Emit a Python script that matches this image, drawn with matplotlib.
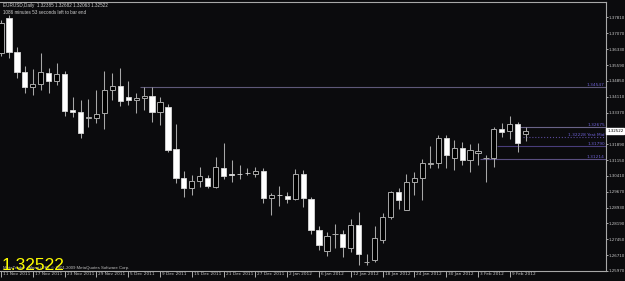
import matplotlib
matplotlib.use('Agg')
import matplotlib.pyplot as plt
import matplotlib.transforms as mtransforms
import numpy as np

# daily EURUSD bars, 11 Nov 2011 .. 13 Feb 2012 (index 0 = 11 Nov)
opens = [1.3615, 1.3779, 1.3620, 1.3526, 1.3456, 1.3470, 1.3522, 1.3484, 1.3517, 1.3349,
         1.3340, 1.3312, 1.3312, 1.3335, 1.3442, 1.3461, 1.3410, 1.3396, 1.3405, 1.3414,
         1.3340, 1.3363, 1.3167, 1.3031, 1.2985, 1.3017, 1.3031, 1.2989, 1.3078, 1.3050,
         1.3050, 1.3055, 1.3050, 1.3064, 1.2938, 1.2952, 1.2947, 1.2933, 1.3050, 1.2933,
         1.2788, 1.2690, 1.2770, 1.2770, 1.2704, 1.2812, 1.2639, 1.2648, 1.2742, 1.2849,
         1.2966, 1.2882, 1.3013, 1.3031, 1.3097, 1.3101, 1.3218, 1.3125, 1.3171, 1.3115,
         1.3148, 1.3125, 1.3125, 1.3260, 1.3251, 1.3283, 1.32385]
highs = [1.3769, 1.3793, 1.3643, 1.3554, 1.3540, 1.3615, 1.3545, 1.3568, 1.3531, 1.3410,
         1.3396, 1.3400, 1.3442, 1.3531, 1.3522, 1.3545, 1.3484, 1.3428, 1.3456, 1.3456,
         1.3410, 1.3377, 1.3283, 1.3064, 1.3045, 1.3083, 1.3045, 1.3129, 1.3195, 1.3115,
         1.3092, 1.3078, 1.3083, 1.3078, 1.2961, 1.2994, 1.2966, 1.3073, 1.3069, 1.2943,
         1.2807, 1.2779, 1.2817, 1.2788, 1.2840, 1.2873, 1.2676, 1.2807, 1.2868, 1.2971,
         1.2985, 1.3050, 1.3059, 1.3120, 1.3181, 1.3232, 1.3232, 1.3209, 1.3200, 1.3190,
         1.3195, 1.3139, 1.3269, 1.3288, 1.3321, 1.3293, 1.32682]
lows = [1.3601, 1.3592, 1.3498, 1.3428, 1.3419, 1.3442, 1.3428, 1.3466, 1.3321, 1.3316,
        1.3218, 1.3269, 1.3288, 1.3260, 1.3396, 1.3368, 1.3372, 1.3335, 1.3349, 1.3293,
        1.3279, 1.3153, 1.3008, 1.2943, 1.2952, 1.2989, 1.2985, 1.2985, 1.3027, 1.3013,
        1.3027, 1.3045, 1.3036, 1.2915, 1.2859, 1.2901, 1.2915, 1.2929, 1.2896, 1.2770,
        1.2695, 1.2667, 1.2704, 1.2662, 1.2686, 1.2625, 1.2625, 1.2639, 1.2728, 1.2840,
        1.2887, 1.2882, 1.2952, 1.2929, 1.3078, 1.3078, 1.3078, 1.3069, 1.3092, 1.3059,
        1.3092, 1.3013, 1.3083, 1.3223, 1.3213, 1.3153, 1.32063]
closes = [1.3755, 1.3620, 1.3526, 1.3456, 1.3470, 1.3526, 1.3484, 1.3517, 1.3344, 1.3340,
          1.3241, 1.3316, 1.3330, 1.3442, 1.3461, 1.3391, 1.3396, 1.3405, 1.3414, 1.3340,
          1.3386, 1.3162, 1.3031, 1.2985, 1.3017, 1.3041, 1.2994, 1.3083, 1.3041, 1.3045,
          1.3048, 1.3053, 1.3064, 1.2938, 1.2952, 1.2950, 1.2933, 1.3050, 1.2938, 1.2788,
          1.2718, 1.2760, 1.2772, 1.2709, 1.2812, 1.2676, 1.2641, 1.2751, 1.2849, 1.2966,
          1.2929, 1.3013, 1.3031, 1.3101, 1.3101, 1.3218, 1.3139, 1.3171, 1.3115, 1.3162,
          1.3157, 1.3127, 1.3260, 1.3246, 1.3283, 1.3195, 1.32522]

date_pos = [0, 4, 8, 12, 16, 20, 24, 28, 32, 36, 40, 44, 48, 52, 56, 60, 64]
date_labels = ['11 Nov 2011', '17 Nov 2011', '23 Nov 2011', '29 Nov 2011', '5 Dec 2011',
               '9 Dec 2011', '15 Dec 2011', '21 Dec 2011', '27 Dec 2011', '2 Jan 2012',
               '6 Jan 2012', '12 Jan 2012', '18 Jan 2012', '24 Jan 2012', '30 Jan 2012',
               '3 Feb 2012', '9 Feb 2012']

price_ticks = [1.25970, 1.26710, 1.27450, 1.28190, 1.28930, 1.29670, 1.30410, 1.31150,
               1.31890, 1.33370, 1.34110, 1.34850, 1.35590, 1.36330, 1.37070, 1.37810]

# horizontal levels drawn on the chart
levels = [1.34547, 1.32675, 1.32228, 1.31790, 1.31214]
level_start = [17.5, 65.0, 65.6, 62.4, 60.3]
level_text = ['1.34547', '1.32675', '1.32228 Yest Mid', '1.31790', '1.31214']
level_color = ['#5e5878', '#6a6488', '#5a4a9a', '#483d7a', '#5a4f80']

last_price = 1.32522
bg = '#0b0b0d'
gray = '#a8a8a8'

fig = plt.figure(figsize=(6.25, 2.81), dpi=100, facecolor=bg)
ax = fig.add_axes([0, 10 / 281, 606 / 625, 269 / 281], facecolor=bg)

x = np.arange(len(opens))
o = np.array(opens)
c = np.array(closes)
up = c >= o

ax.vlines(x, lows, highs, color=gray, lw=0.75, zorder=2)
ax.bar(x[up], (c - o)[up], bottom=o[up], width=0.65, color='black',
       edgecolor=gray, linewidth=0.7, zorder=3)
ax.bar(x[~up], (c - o)[~up], bottom=o[~up], width=0.65, color='white',
       edgecolor='#d8d8d8', linewidth=0.6, zorder=3)

for i, lv in enumerate(levels):
    ls = ':' if 'Mid' in level_text[i] else '-'
    ax.hlines(lv, level_start[i], 80, color=level_color[i], lw=0.8, linestyle=ls, zorder=1)
    ax.text(0.998, lv, level_text[i], transform=ax.get_yaxis_transform(),
            ha='right', va='bottom', fontsize=3.1, color='#6f62d8', zorder=4)

ax.set_xlim(-0.13, 76.1)
ax.set_ylim(1.2597, 1.38533)

ax.yaxis.tick_right()
ax.set_yticks(price_ticks)
ax.set_yticklabels(['%.5f' % p for p in price_ticks])
ax.tick_params(axis='y', colors='#c8c8c8', labelsize=2.9, length=1.5, width=0.6, pad=0.6)

ax.set_xticks(date_pos)
ax.set_xticklabels(date_labels)
ax.tick_params(axis='x', colors='#c8c8c8', labelsize=3.1, length=4, width=0.6, pad=-3.2)
shift = mtransforms.ScaledTranslation(2 / 100, 0, fig.dpi_scale_trans)
for lab in ax.get_xticklabels():
    lab.set_horizontalalignment('left')
    lab.set_transform(lab.get_transform() + shift)

ax.spines['left'].set_visible(False)
for side in ['right', 'bottom', 'top']:
    ax.spines[side].set_color(gray)
    ax.spines[side].set_linewidth(0.8)

# current price box on the axis
ax.text(1.002, last_price, '%.5f' % last_price, transform=ax.get_yaxis_transform(),
        ha='left', va='center', fontsize=2.9, color='black', zorder=5, clip_on=False,
        bbox=dict(boxstyle='square,pad=0.25', fc='white', ec='white'))

fig.text(3 / 625, 1 - 6 / 281, 'EURUSD,Daily  1.32385 1.32682 1.32063 1.32522',
         fontsize=3.3, color='#d0d0d0', va='center', family='Liberation Sans')
fig.text(3 / 625, 1 - 12 / 281, '1086 minutes 53 seconds left to bar end',
         fontsize=3.3, color='#d0d0d0', va='center', family='Liberation Sans')
fig.text(3 / 625, 1 - 268 / 281,
         'MetaTrader - Alpari (UK), \u00a9 2001-2009 MetaQuotes Software Corp.',
         fontsize=3.1, color='#c0c0c0', va='center', family='Liberation Sans')
fig.text(2 / 625, 1 - 270 / 281, '1.32522', fontsize=12.5, color='#ffff00',
         va='baseline', family='Liberation Sans')

fig.savefig('out.png', dpi=100, facecolor=bg)
